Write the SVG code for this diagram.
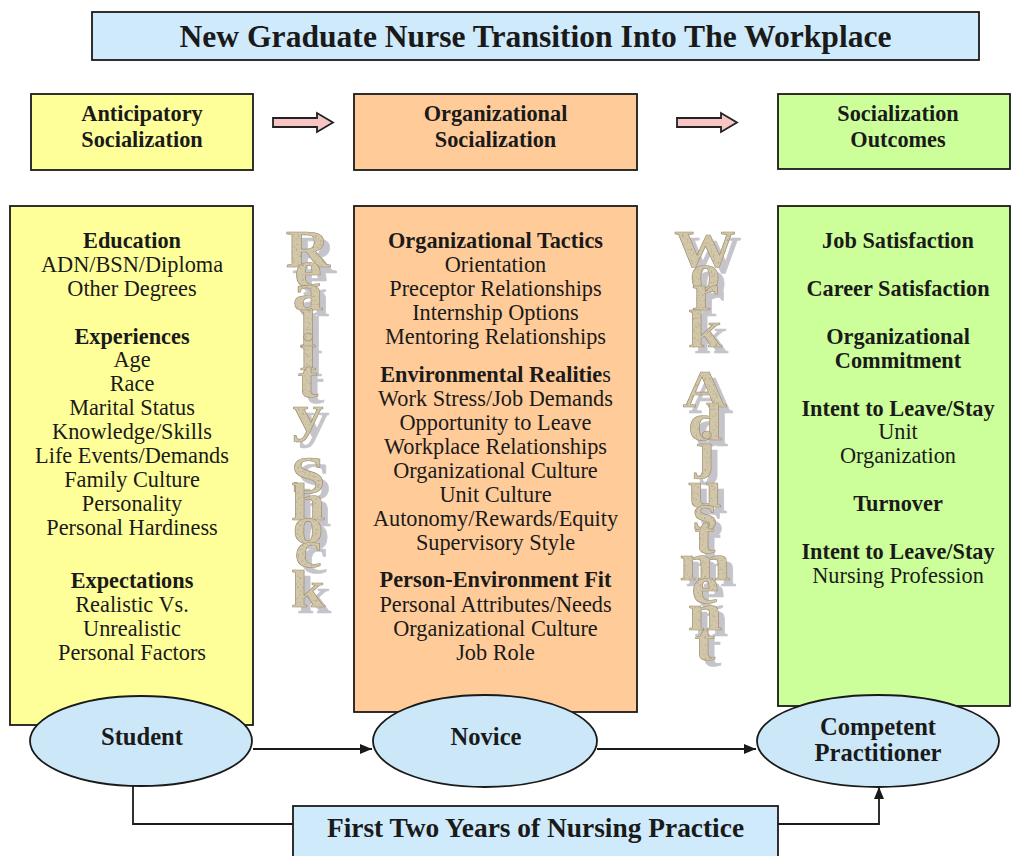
<svg xmlns="http://www.w3.org/2000/svg" width="1013" height="856" viewBox="0 0 1013 856">
  <defs>
    <style>
      .box { stroke: #1a1a1a; stroke-width: 1.8; }
      .t { font-family: "Liberation Serif", "Times New Roman", serif; fill: #1a1a1a; text-anchor: middle; }
      .r { font-size: 22.3px; }
      .b { font-size: 22.3px; font-weight: bold; }
      .hd { font-size: 22.3px; font-weight: bold; }
      .el { font-size: 24.6px; font-weight: bold; }
      .wa { font-family: "Liberation Serif", "Times New Roman", serif; font-weight: bold; font-size: 52px; text-anchor: middle; fill: #d3c7a9; stroke: #9e8f70; stroke-width: 0.6; }
      .conn { fill: none; stroke: #1a1a1a; stroke-width: 1.8; }
      .blk { fill: #f7c6c4; stroke: #222; stroke-width: 1.8; stroke-linejoin: miter; }
    </style>
    <marker id="arrow" viewBox="0 0 12 10" refX="12" refY="5" markerWidth="12" markerHeight="10" markerUnits="userSpaceOnUse" orient="auto">
      <path d="M0,0 L12,5 L0,10 Z" fill="#1a1a1a"/>
    </marker>
    <!-- speckled stone texture with a soft grey drop shadow for the stacked lettering -->
    <filter id="stone" x="-20%" y="-5%" width="150%" height="115%">
      <feOffset in="SourceAlpha" dx="6" dy="6" result="off"/>
      <feFlood flood-color="#b6b6bd" flood-opacity="0.8"/>
      <feComposite in2="off" operator="in" result="shadow"/>
      <feTurbulence type="fractalNoise" baseFrequency="0.45" numOctaves="2" seed="7" result="noise"/>
      <feColorMatrix in="noise" type="matrix" values="0 0 0 0 0.42  0 0 0 0 0.36  0 0 0 0 0.28  3.2 0 0 0 -1.75" result="spots"/>
      <feComposite in="spots" in2="SourceAlpha" operator="in" result="spotsIn"/>
      <feMerge>
        <feMergeNode in="shadow"/>
        <feMergeNode in="SourceGraphic"/>
        <feMergeNode in="spotsIn"/>
      </feMerge>
    </filter>
  </defs>

  <rect width="1013" height="856" fill="#ffffff"/>

  <!-- title -->
  <g id="title">
    <rect class="box" x="92" y="12" width="887" height="48" fill="#cfeafb"/>
    <text class="t" x="535.5" y="47" font-size="31" font-weight="bold" textLength="712" lengthAdjust="spacingAndGlyphs">New Graduate Nurse Transition Into The Workplace</text>
  </g>

  <!-- stage headers -->
  <g id="hdr-anticipatory">
    <rect class="box" x="31" y="94" width="222" height="76" fill="#ffff99"/>
    <text class="t hd" x="142" y="121">Anticipatory</text>
    <text class="t hd" x="142" y="147">Socialization</text>
  </g>
  <g id="hdr-organizational">
    <rect class="box" x="354" y="94" width="283" height="76" fill="#ffcc99"/>
    <text class="t hd" x="495.5" y="121">Organizational</text>
    <text class="t hd" x="495.5" y="147">Socialization</text>
  </g>
  <g id="hdr-outcomes">
    <rect class="box" x="778" y="94" width="232" height="75" fill="#ccff99"/>
    <text class="t hd" x="898" y="121">Socialization</text>
    <text class="t hd" x="898" y="147">Outcomes</text>
  </g>

  <!-- block arrows between headers -->
  <g id="block-arrows">
    <path class="blk" d="M273,118 H317 V113 L333,122.5 L317,132 V127 H273 Z"/>
    <path class="blk" d="M677,118 H721 V113 L737,122.5 L721,132 V127 H677 Z"/>
  </g>

  <!-- column: anticipatory socialization -->
  <g id="col-anticipatory">
    <rect class="box" x="10" y="206" width="243" height="519" fill="#ffff99"/>
    <text class="t b" x="132" y="248">Education</text>
    <text class="t r" x="132" y="272">ADN/BSN/Diploma</text>
    <text class="t r" x="132" y="296">Other Degrees</text>
    <text class="t b" x="132" y="344">Experiences</text>
    <text class="t r" x="132" y="367">Age</text>
    <text class="t r" x="132" y="391">Race</text>
    <text class="t r" x="132" y="415">Marital Status</text>
    <text class="t r" x="132" y="439">Knowledge/Skills</text>
    <text class="t r" x="132" y="463">Life Events/Demands</text>
    <text class="t r" x="132" y="487">Family Culture</text>
    <text class="t r" x="132" y="511">Personality</text>
    <text class="t r" x="132" y="535">Personal Hardiness</text>
    <text class="t b" x="132" y="588">Expectations</text>
    <text class="t r" x="132" y="612">Realistic Vs.</text>
    <text class="t r" x="132" y="636">Unrealistic</text>
    <text class="t r" x="132" y="660">Personal Factors</text>
  </g>

  <!-- column: organizational socialization -->
  <g id="col-organizational">
    <rect class="box" x="354" y="206" width="283" height="506" fill="#ffcc99"/>
    <text class="t b" x="495.5" y="248">Organizational Tactics</text>
    <text class="t r" x="495.5" y="272">Orientation</text>
    <text class="t r" x="495.5" y="296">Preceptor Relationships</text>
    <text class="t r" x="495.5" y="320">Internship Options</text>
    <text class="t r" x="495.5" y="344">Mentoring Relationships</text>
    <text class="t b" x="495.5" y="382">Environmental Realitie<tspan font-weight="normal">s</tspan></text>
    <text class="t r" x="495.5" y="406">Work Stress/Job Demands</text>
    <text class="t r" x="495.5" y="430">Opportunity to Leave</text>
    <text class="t r" x="495.5" y="454">Workplace Relationships</text>
    <text class="t r" x="495.5" y="478">Organizational Culture</text>
    <text class="t r" x="495.5" y="502">Unit Culture</text>
    <text class="t r" x="495.5" y="526">Autonomy/Rewards/Equity</text>
    <text class="t r" x="495.5" y="550">Supervisory Style</text>
    <text class="t b" x="495.5" y="587">Person-Environment Fit</text>
    <text class="t r" x="495.5" y="612">Personal Attributes/Needs</text>
    <text class="t r" x="495.5" y="636">Organizational Culture</text>
    <text class="t r" x="495.5" y="660">Job Role</text>
  </g>

  <!-- column: socialization outcomes -->
  <g id="col-outcomes">
    <rect class="box" x="778" y="206" width="232" height="500" fill="#ccff99"/>
    <text class="t b" x="898" y="248">Job Satisfaction</text>
    <text class="t b" x="898" y="296">Career Satisfaction</text>
    <text class="t b" x="898" y="344">Organizational</text>
    <text class="t b" x="898" y="368">Commitment</text>
    <text class="t b" x="898" y="416">Intent to Leave/Stay</text>
    <text class="t r" x="898" y="439">Unit</text>
    <text class="t r" x="898" y="463">Organization</text>
    <text class="t b" x="898" y="511">Turnover</text>
    <text class="t b" x="898" y="559">Intent to Leave/Stay</text>
    <text class="t r" x="898" y="583">Nursing Profession</text>
  </g>

  <!-- stacked vertical lettering: Reality Shock (one glyph per position) -->
  <g id="reality-shock" class="wa" filter="url(#stone)">
    <g transform="translate(308,0) scale(1.18,1)">
      <text x="0 0 0 0 0 0 0" y="267 287 310 347 370 397 431">Reality</text>
      <text x="0 0 0 0 0" y="493 520 543 567 607">Shock</text>
    </g>
  </g>

  <!-- stacked vertical lettering: Work Adjustment -->
  <g id="work-adjustment" class="wa" filter="url(#stone)">
    <g transform="translate(705,0) scale(1.18,1)">
      <text x="0 0 0 0" y="267 290 310 347">Work</text>
      <text x="0 0 0 0 0 0 0 0 0 0" y="407 440 468 507 530 553 580 603 630 660">Adjustment</text>
    </g>
  </g>

  <!-- connectors -->
  <g id="connectors">
    <path class="conn" d="M253,749 H372" marker-end="url(#arrow)"/>
    <path class="conn" d="M597,749 H756" marker-end="url(#arrow)"/>
    <path class="conn" d="M133,786 V824 H293"/>
    <path class="conn" d="M778,824 H879 V787" marker-end="url(#arrow)"/>
  </g>

  <!-- stage ellipses -->
  <g id="node-student">
    <ellipse class="box" cx="141" cy="741" rx="111" ry="45" fill="#cce8f8"/>
    <text class="t el" x="142" y="745">Student</text>
  </g>
  <g id="node-novice">
    <ellipse class="box" cx="485" cy="741" rx="112" ry="46" fill="#cce8f8"/>
    <text class="t el" x="486" y="745">Novice</text>
  </g>
  <g id="node-competent">
    <ellipse class="box" cx="878" cy="741" rx="121" ry="46" fill="#cce8f8"/>
    <text class="t el" x="878" y="735">Competent</text>
    <text class="t el" x="878" y="761">Practitioner</text>
  </g>

  <!-- time span box -->
  <g id="first-two-years">
    <rect class="box" x="293" y="806" width="485" height="70" fill="#cfeafb"/>
    <text class="t" x="535.5" y="837" font-size="27.4" font-weight="bold">First Two Years of Nursing Practice</text>
  </g>
</svg>
